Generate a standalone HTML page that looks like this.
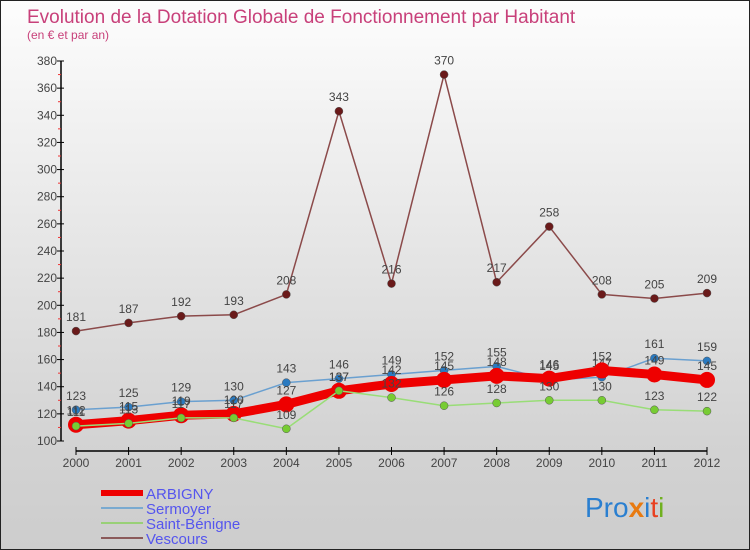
<!DOCTYPE html>
<html><head><meta charset="utf-8"><style>
body{margin:0;padding:0}
#wrap{width:750px;height:550px;position:relative;overflow:hidden;background:linear-gradient(#fdfdfd,#d3d3d3 80%,#cdcdcd);box-sizing:border-box;border:1px solid #222;font-family:"Liberation Sans",sans-serif}
svg text{font-family:"Liberation Sans",sans-serif}
</style></head><body>
<div id="wrap">
<svg id="chart" width="750" height="550">
<text x="26" y="22" font-size="19" fill="#c8407a">Evolution de la Dotation Globale de Fonctionnement par Habitant</text>
<text x="26" y="38" font-size="12" fill="#c8407a">(en € et par an)</text>
<g id="axes"></g>
<g id="series"></g>
<g id="legend"></g>
<text x="584" y="516" font-size="28"><tspan fill="#2a7fd0">Pro</tspan><tspan fill="#e87a10" font-weight="bold">x</tspan><tspan fill="#2a7fd0">i</tspan><tspan fill="#e84020">t</tspan><tspan fill="#70b020">i</tspan></text>
</svg>
</div>
<script>
const years=["2000","2001","2002","2003","2004","2005","2006","2007","2008","2009","2010","2011","2012"];
const yTicks=[100,120,140,160,180,200,220,240,260,280,300,320,340,360,380];
const arbigny=[112,115,119,120,127,137,142,145,148,146,152,149,145];
const sermoyer=[123,125,129,130,143,146,149,152,155,145,147,161,159];
const saintBenigne=[111,113,117,117,109,137,132,126,128,130,130,123,122];
const vescours=[181,187,192,193,208,343,216,370,217,258,208,205,209];
const NS="http://www.w3.org/2000/svg";
const xs=i=>75+i*(631/12);
const ys=v=>440-(v-100)*(380/280);
function mk(tag,attrs,parent){const e=document.createElementNS(NS,tag);for(const k in attrs)e.setAttribute(k,attrs[k]);parent.appendChild(e);return e;}
const ax=document.getElementById('axes');
let yl=mk('line',{x1:60,y1:60,x2:60,y2:440,stroke:'#000','stroke-width':1.5},ax);


yTicks.forEach((t,i)=>{
  mk('line',{x1:56,y1:ys(t),x2:63,y2:ys(t),stroke:'#000'},ax);
  if(i<yTicks.length-1) mk('line',{x1:57,y1:ys(t+10),x2:60,y2:ys(t+10),stroke:'#e33'},ax);
  const tx=mk('text',{x:56,y:ys(t)+4,'font-size':12,fill:'#444','text-anchor':'end'},ax);
  tx.textContent=t;
  
  
});
let xl=mk('line',{x1:75,y1:450,x2:706,y2:450,stroke:'#000','stroke-width':1.5},ax);


years.forEach((y,i)=>{
  mk('line',{x1:xs(i),y1:446,x2:xs(i),y2:454,stroke:'#000'},ax);
  const tx=mk('text',{x:xs(i),y:466,'font-size':12,fill:'#444','text-anchor':'middle'},ax);
  tx.textContent=y;
  
  
});
const sg=document.getElementById('series');
function drawSeries(data,color,dot,w,r,name,labelDy){
  const g=mk('g',{},sg);
  
  
  const pl=mk('polyline',{points:data.map((v,i)=>xs(i)+','+ys(v)).join(' '),fill:'none',stroke:color,'stroke-width':w,'stroke-linejoin':'round'},g);
  
  
  data.forEach((v,i)=>{
    const c=mk('circle',{cx:xs(i),cy:ys(v),r:r,fill:dot,stroke:w>3?'#e00':'#555','stroke-width':w>3?2:0.5},g);
    
    
    const t=mk('text',{x:xs(i),y:ys(v)+labelDy,'font-size':12,fill:'#444','text-anchor':'middle'},g);
    t.textContent=v;
    
    
  });
}
drawSeries(vescours,'#8b4a4a','#6a1a1a',1.5,4,'vescours',-10);
drawSeries(sermoyer,'#6aa0d0','#2a7ac0',1.5,4,'sermoyer',-10);
drawSeries(arbigny,'#ee0000','#ee0000',9,7,'arbigny',-10);
drawSeries(saintBenigne,'#99dd77','#77cc33',1.5,4,'saint-benigne',-10);
const lg=document.getElementById('legend');
const leg=[["ARBIGNY","#ee0000",6],["Sermoyer","#7aaad0",2],["Saint-Bénigne","#99d077",2],["Vescours","#8b5a5a",2]];
leg.forEach((l,i)=>{
  const y=492+i*15;
  const g=mk('g',{},lg);
  
  
  mk('line',{x1:100,y1:y,x2:142,y2:y,stroke:l[1],'stroke-width':l[2]},g);
  const t=mk('text',{x:145,y:y+6,'font-size':15,fill:'#5555ee'},g);
  t.textContent=l[0];
});
</script>
</body></html>
